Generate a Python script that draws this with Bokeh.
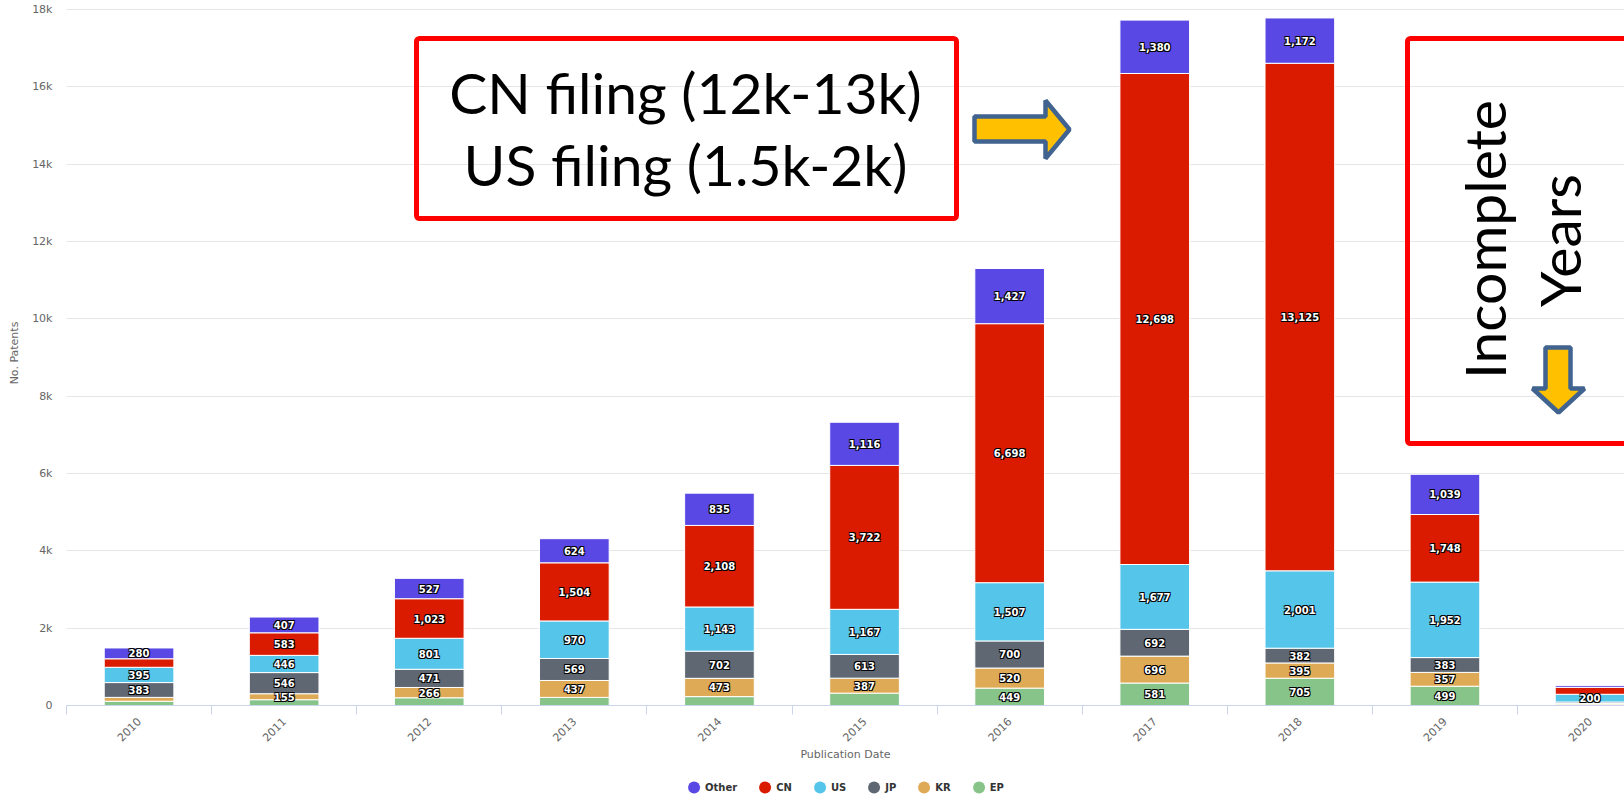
import math
from bokeh.plotting import figure
from bokeh.layouts import column
from bokeh.models import (ColumnDataSource, Range1d, FixedTicker, SingleIntervalTicker,
                          NumeralTickFormatter, Legend, LegendItem,
                          BoxAnnotation, Label)
from bokeh.core.properties import value
from bokeh.embed import file_html
from bokeh.resources import INLINE

# ---------------- data ----------------
years = [2010, 2011, 2012, 2013, 2014, 2015, 2016, 2017, 2018, 2019, 2020]
ep    = [110, 150, 200, 210, 230, 320, 449, 581, 705, 499, 20]
kr    = [100, 155, 266, 437, 473, 387, 520, 696, 395, 357, 30]
jp    = [383, 546, 471, 569, 702, 613, 700, 692, 382, 383, 40]
us    = [395, 446, 801, 970, 1143, 1167, 1507, 1677, 2001, 1952, 200]
cn    = [220, 583, 1023, 1504, 2108, 3722, 6698, 12698, 13125, 1748, 180]
other = [280, 407, 527, 624, 835, 1116, 1427, 1380, 1172, 1039, 50]

series_names = ["EP", "KR", "JP", "US", "CN", "Other"]      # stacking order (bottom -> top)
legend_order = ["Other", "CN", "US", "JP", "KR", "EP"]
colors = {"Other": "#5a48e4", "CN": "#da1b00", "US": "#55c5ea",
          "JP": "#5f6773", "KR": "#dfaa56", "EP": "#87c48a"}
# data labels that the original chart did not show (overlapping / too small)
hidden_labels = {"EP": [2010, 2011, 2012, 2013, 2014, 2015, 2020],
                 "KR": [2010, 2020], "JP": [2020], "CN": [2010, 2020], "Other": [2020]}

y_ticks_step = 2000
annot_line1 = "CN filing (12k-13k)"
annot_line2 = "US filing (1.5k-2k)"
annot_rot1 = "Incomplete"
annot_rot2 = "Years"

# ---------------- layout constants ----------------
W = 1624
BORDER_L = 66
BORDER_B = 60
LEG_H = 30
BAND_PX = 145.1          # pixels per year band
PX_PER_UNIT = 0.03867    # pixels per patent
frame_w = W - BORDER_L
frame_h = 705
x_start = years[0] - 0.5
x_end = x_start + frame_w / BAND_PX
y_end = frame_h / PX_PER_UNIT


def px2x(px):  # page pixel -> data x
    return x_start + (px - BORDER_L) / BAND_PX


def px2y(py):  # page pixel -> data y
    return (frame_h - py) / PX_PER_UNIT


data = {"year": years, "EP": ep, "KR": kr, "JP": jp, "US": us, "CN": cn, "Other": other}
src = ColumnDataSource(data)

p = figure(frame_width=frame_w, frame_height=frame_h, output_backend="svg", toolbar_location=None,
           x_range=Range1d(x_start, x_end), y_range=Range1d(0, y_end),
           min_border_left=BORDER_L, min_border_right=0, min_border_top=0,
           min_border_bottom=BORDER_B)
p.outline_line_color = None
p.background_fill_color = "white"

p.vbar_stack(series_names, x="year", width=0.48, source=src,
             color=[colors[s] for s in series_names], line_color="white", line_width=1)

# ---------------- data labels ----------------
lx, ly, lt = [], [], []
bottoms = [0] * len(years)
for s in series_names:
    vals = data[s]
    for i, yr in enumerate(years):
        v = vals[i]
        if yr not in hidden_labels.get(s, []):
            lx.append(yr)
            ly.append(bottoms[i] + v / 2)
            lt.append(f"{v:,}")
        bottoms[i] += v
lsrc = ColumnDataSource(dict(x=lx, y=ly, t=lt))
lab_kw = dict(x="x", y="y", text="t", source=lsrc, text_align="center", text_baseline="middle",
              text_font=value("DejaVu Sans"), text_font_size="10px", text_font_style="bold")
for dx, dy in [(-1, -1), (1, -1), (-1, 1), (1, 1)]:
    p.text(x_offset=dx, y_offset=dy, text_color="#000000", **lab_kw)
p.text(text_color="#ffffff", **lab_kw)

# ---------------- axes ----------------
p.xgrid.visible = False
p.ygrid.grid_line_color = "#e6e6e6"
p.ygrid.grid_line_width = 1

xa = p.xaxis[0]
xa.ticker = FixedTicker(ticks=years, minor_ticks=[y - 0.5 for y in years] + [years[-1] + 0.5])
xa.major_label_orientation = math.pi / 4
xa.major_tick_line_color = None
xa.major_tick_out = 0
xa.major_tick_in = 0
xa.minor_tick_line_color = "#ccd6eb"
xa.minor_tick_out = 9
xa.minor_tick_in = 0
xa.axis_line_color = "#ccd6eb"
xa.major_label_standoff = 5
xa.major_label_text_font = "DejaVu Sans"
xa.major_label_text_font_size = "11px"
xa.major_label_text_color = "#666666"
xa.axis_label = "Publication Date"
xa.axis_label_standoff = 0
xa.axis_label_text_font = "DejaVu Sans"
xa.axis_label_text_font_size = "11px"
xa.axis_label_text_font_style = "normal"
xa.axis_label_text_color = "#666666"

ya = p.yaxis[0]
ya.ticker = SingleIntervalTicker(interval=y_ticks_step, num_minor_ticks=0)
ya.formatter = NumeralTickFormatter(format="0a")
ya.axis_line_color = None
ya.major_tick_line_color = None
ya.minor_tick_line_color = None
ya.major_tick_out = 0
ya.major_label_standoff = 14
ya.major_label_text_font = "DejaVu Sans"
ya.major_label_text_font_size = "11px"
ya.major_label_text_color = "#666666"
ya.axis_label = "No. Patents"
ya.axis_label_standoff = 8
ya.axis_label_text_font = "DejaVu Sans"
ya.axis_label_text_font_size = "11px"
ya.axis_label_text_font_style = "normal"
ya.axis_label_text_color = "#666666"

# ---------------- annotations ----------------
box_kw = dict(fill_alpha=0, line_color="#ff0000", line_alpha=1, line_width=5, border_radius=3)
p.add_layout(BoxAnnotation(left=px2x(416), right=px2x(956), top=px2y(38), bottom=px2y(218), **box_kw))
p.add_layout(BoxAnnotation(left=px2x(1407), right=x_end + 1, top=px2y(38), bottom=px2y(443), **box_kw))

big = dict(text_font="Lato", text_font_size="57px", text_color="#000000",
           text_align="center", text_baseline="middle")
p.add_layout(Label(x=px2x(685), y=px2y(91), text=annot_line1, **big))
p.add_layout(Label(x=px2x(685), y=px2y(163), text=annot_line2, **big))
p.add_layout(Label(x=px2x(1483), y=px2y(239), text=annot_rot1, angle=math.pi / 2, **big))
p.add_layout(Label(x=px2x(1558), y=px2y(240), text=annot_rot2, angle=math.pi / 2, **big))

arrow_kw = dict(fill_color="#ffc000", line_color="#41638f", line_width=4.5)
# right-pointing block arrow
rx = [974, 1045, 1045, 1069, 1045, 1045, 974]
ry = [116, 116, 100, 129, 158, 141, 141]
p.patch([px2x(v) for v in rx], [px2y(v) for v in ry], **arrow_kw)
# down-pointing block arrow
dxp = [1545, 1570, 1570, 1584, 1558, 1532, 1545]
dyp = [347, 347, 388, 388, 412, 388, 388]
p.patch([px2x(v) for v in dxp], [px2y(v) for v in dyp], **arrow_kw)

# ---------------- legend strip below the chart ----------------
lf = figure(width=W, height=LEG_H, output_backend="svg", toolbar_location=None,
            x_axis_type=None, y_axis_type=None,
            x_range=Range1d(0, 1), y_range=Range1d(0, 1),
            min_border_left=44, min_border_right=0, min_border_top=14, min_border_bottom=0)
lf.grid.visible = False
lf.outline_line_color = None
items = []
for s in legend_order:
    r = lf.ellipse(x=[float("nan")], y=[float("nan")], width=12, height=12,
                   width_units="screen", height_units="screen",
                   fill_color=colors[s], line_color=None)
    items.append(LegendItem(label=s, renderers=[r]))
legend = Legend(items=items, orientation="horizontal", location="center",
                glyph_width=15, glyph_height=15, label_height=15, label_width=1,
                label_standoff=4, spacing=20, margin=0, padding=0,
                border_line_color=None, background_fill_alpha=0,
                label_text_font="DejaVu Sans", label_text_font_size="10px",
                label_text_font_style="bold", label_text_color="#333333")
lf.add_layout(legend, "center")

layout = column(p, lf, spacing=0)
open("out.html", "w").write(file_html(layout, INLINE))
